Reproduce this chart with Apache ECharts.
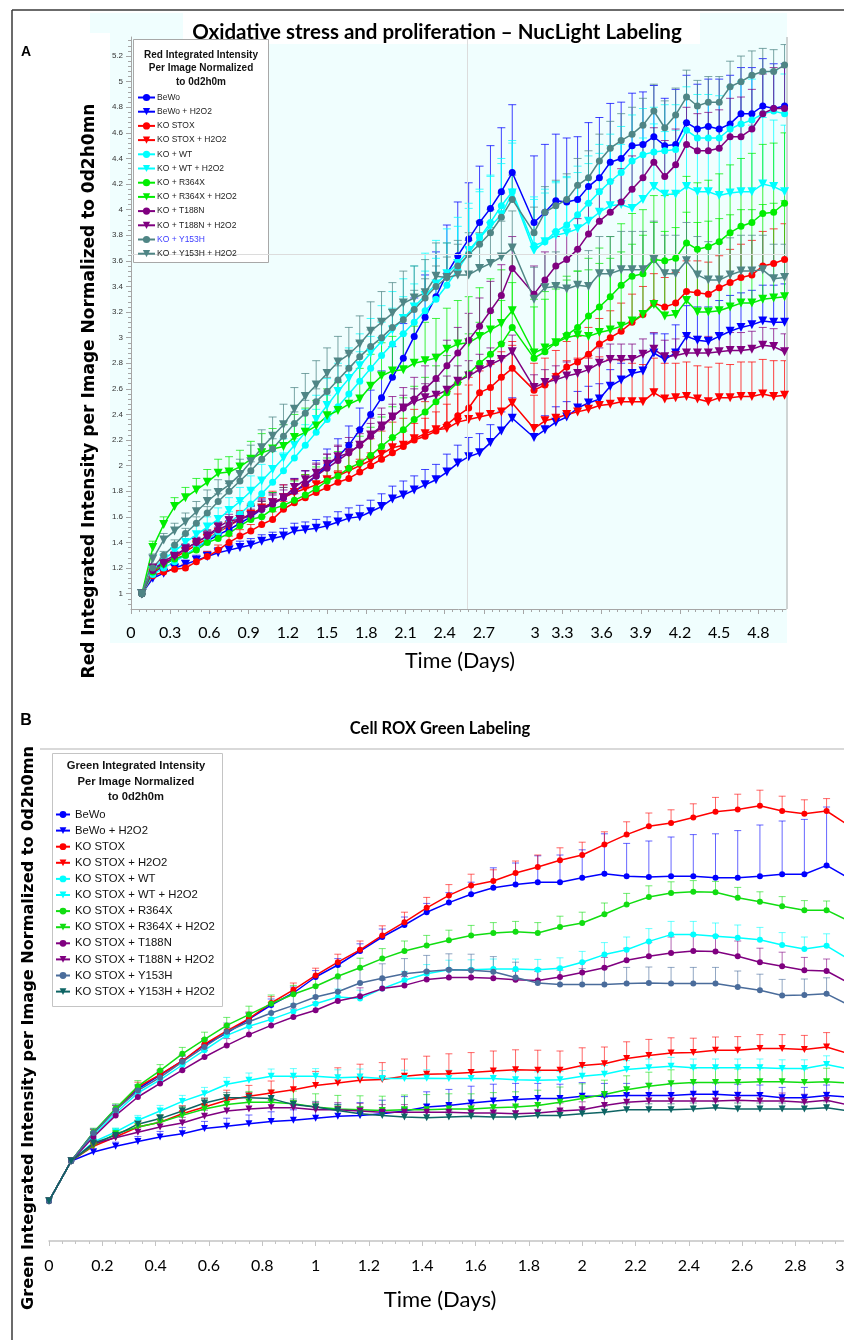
<!DOCTYPE html>
<html><head><meta charset="utf-8">
<script src="https://cdn.jsdelivr.net/npm/echarts@6/dist/echarts.min.js"></script>
<style>html,body{margin:0;padding:0;background:#fff}#c{width:844px;height:1340px}</style>
</head><body><div id="c"></div>
<script>
// ---------- Panel A (NucLight, red integrated intensity) ----------
const TIME_TOP_H = [2,4,6,8,10,12,14,16,18,20,22,24,26,28,30,32,34,36,38,40,42,44,46,48,50,52,54,56,58,60,62,64,66,68,70,
  74,76,78,80,82,84,86,88,90,92,94,96,98,100,102,104,106,108,110,112,114,116,118,120];
const NAMES_TOP = ['BeWo','BeWo + H2O2','KO STOX','KO STOX + H2O2','KO + WT','KO + WT + H2O2','KO + R364X','KO + R364X + H2O2','KO + T188N','KO + T188N + H2O2','KO + Y153H','KO + Y153H + H2O2'];
const X_TICKS_TOP = [0,0.3,0.6,0.9,1.2,1.5,1.8,2.1,2.4,2.7,3,3.3,3.6,3.9,4.2,4.5,4.8];
const Y_TICKS_TOP = [1,1.2,1.4,1.6,1.8,2,2.2,2.4,2.6,2.8,3,3.2,3.4,3.6,3.8,4,4.2,4.4,4.6,4.8,5,5.2];
const CROSSHAIR_TOP = {x: 2.57, y: 3.65};

const BEWO_TOP = [1.00,1.15,1.23,1.27,1.30,1.36,1.41,1.46,1.50,1.55,1.60,1.66,1.70,1.75,1.80,1.85,1.92,2.00,2.07,2.16,2.28,2.40,2.53,2.69,2.84,3.01,3.16,3.32,3.50,3.64,3.77,3.90,4.01,4.14,4.29,
  3.90,3.98,4.07,4.06,4.08,4.18,4.25,4.37,4.40,4.50,4.51,4.57,4.50,4.51,4.68,4.63,4.65,4.63,4.67,4.75,4.75,4.81,4.79,4.81];
const BEWO_H2O2_TOP = [1.00,1.12,1.16,1.20,1.23,1.26,1.29,1.32,1.34,1.36,1.38,1.41,1.43,1.45,1.49,1.50,1.51,1.53,1.56,1.59,1.60,1.64,1.68,1.74,1.77,1.81,1.85,1.89,1.95,2.02,2.07,2.10,2.18,2.27,2.37,
  2.22,2.28,2.34,2.38,2.45,2.49,2.52,2.62,2.67,2.72,2.74,2.88,2.83,2.88,3.01,2.98,2.97,3.01,3.05,3.08,3.10,3.13,3.12,3.12];
const KOSTOX_TOP = [1.00,1.14,1.17,1.19,1.20,1.25,1.29,1.34,1.40,1.45,1.49,1.54,1.58,1.66,1.71,1.75,1.79,1.83,1.87,1.90,1.95,2.00,2.05,2.10,2.15,2.20,2.23,2.27,2.32,2.39,2.45,2.57,2.61,2.69,2.76,
  2.59,2.63,2.70,2.77,2.81,2.87,2.95,3.00,3.05,3.12,3.18,3.27,3.24,3.27,3.36,3.35,3.34,3.39,3.43,3.47,3.49,3.56,3.58,3.61];
const KOSTOX_H2O2_TOP = [1.00,1.16,1.23,1.28,1.33,1.38,1.43,1.48,1.53,1.58,1.62,1.67,1.71,1.75,1.79,1.82,1.85,1.89,1.92,1.96,2.00,2.04,2.09,2.14,2.16,2.21,2.25,2.28,2.29,2.34,2.36,2.38,2.40,2.42,2.49,
  2.29,2.35,2.37,2.40,2.42,2.44,2.47,2.48,2.50,2.50,2.50,2.57,2.52,2.53,2.54,2.52,2.50,2.53,2.53,2.54,2.54,2.56,2.54,2.55];
const KOWT_TOP = [1.00,1.15,1.20,1.25,1.30,1.36,1.42,1.48,1.55,1.62,1.70,1.78,1.87,1.96,2.06,2.16,2.26,2.36,2.46,2.56,2.66,2.76,2.86,2.95,3.03,3.12,3.21,3.30,3.41,3.53,3.66,3.78,3.90,4.03,4.14,
  3.72,3.75,3.83,3.88,3.96,4.05,4.14,4.22,4.29,4.38,4.43,4.45,4.46,4.47,4.62,4.56,4.56,4.56,4.63,4.67,4.70,4.75,4.77,4.75];
const KOWT_H2O2_TOP = [1.00,1.18,1.27,1.33,1.40,1.46,1.52,1.58,1.65,1.72,1.80,1.88,1.97,2.06,2.16,2.26,2.36,2.47,2.58,2.68,2.78,2.88,2.97,3.06,3.15,3.24,3.33,3.42,3.50,3.58,3.68,3.78,3.87,3.96,4.13,
  3.68,3.75,3.80,3.82,3.85,3.91,3.98,4.03,4.04,4.01,4.08,4.18,4.12,4.12,4.18,4.14,4.14,4.11,4.13,4.14,4.14,4.20,4.18,4.14];
const R364X_TOP = [1.00,1.17,1.23,1.27,1.30,1.34,1.40,1.43,1.47,1.53,1.58,1.60,1.66,1.69,1.73,1.77,1.82,1.88,1.92,1.98,2.02,2.08,2.15,2.22,2.28,2.36,2.42,2.50,2.57,2.65,2.72,2.80,2.87,2.95,3.08,
  2.84,2.89,2.96,3.02,3.08,3.17,3.24,3.32,3.41,3.48,3.50,3.61,3.60,3.62,3.74,3.69,3.71,3.75,3.82,3.87,3.90,3.97,3.98,4.05];
const R364X_H2O2_TOP = [1.00,1.36,1.54,1.68,1.75,1.81,1.87,1.94,1.95,1.99,2.05,2.10,2.13,2.15,2.22,2.26,2.31,2.39,2.43,2.48,2.52,2.62,2.70,2.74,2.75,2.80,2.82,2.84,2.91,2.95,2.96,3.01,3.06,3.11,3.21,
  2.88,2.92,2.96,3.00,3.02,3.01,3.04,3.06,3.09,3.13,3.18,3.26,3.17,3.18,3.29,3.20,3.20,3.21,3.24,3.27,3.27,3.30,3.31,3.32];
const T188N_TOP = [1.00,1.18,1.25,1.30,1.35,1.40,1.45,1.50,1.54,1.58,1.62,1.66,1.70,1.75,1.80,1.86,1.92,1.98,2.04,2.10,2.16,2.23,2.30,2.38,2.45,2.52,2.60,2.68,2.78,2.88,2.98,3.09,3.21,3.33,3.54,
  3.34,3.45,3.56,3.61,3.69,3.81,3.91,3.98,4.06,4.16,4.25,4.37,4.26,4.35,4.51,4.46,4.46,4.48,4.57,4.57,4.63,4.75,4.79,4.79];
const T188N_H2O2_TOP = [1.00,1.20,1.23,1.29,1.35,1.40,1.45,1.52,1.57,1.58,1.61,1.66,1.71,1.75,1.83,1.89,1.94,2.01,2.07,2.10,2.16,2.24,2.31,2.38,2.45,2.50,2.53,2.55,2.59,2.66,2.70,2.75,2.79,2.83,2.89,
  2.61,2.65,2.67,2.70,2.72,2.75,2.80,2.83,2.83,2.83,2.87,2.91,2.85,2.86,2.88,2.88,2.88,2.89,2.90,2.90,2.91,2.94,2.93,2.89];
const Y153H_TOP = [1.00,1.20,1.30,1.38,1.47,1.55,1.63,1.72,1.80,1.88,1.96,2.05,2.13,2.23,2.33,2.41,2.50,2.58,2.67,2.76,2.85,2.93,3.00,3.08,3.14,3.22,3.31,3.40,3.47,3.56,3.65,3.73,3.82,3.94,4.08,
  3.82,3.98,4.03,4.08,4.19,4.25,4.38,4.48,4.54,4.59,4.66,4.77,4.64,4.74,4.88,4.81,4.84,4.84,4.96,5.00,5.05,5.08,5.08,5.13];
const Y153H_H2O2_TOP = [1.00,1.27,1.42,1.49,1.56,1.64,1.72,1.79,1.85,1.93,2.03,2.14,2.23,2.32,2.44,2.54,2.63,2.72,2.81,2.87,2.95,3.05,3.12,3.19,3.27,3.31,3.35,3.48,3.47,3.49,3.49,3.54,3.58,3.63,3.70,
  3.30,3.39,3.40,3.38,3.41,3.40,3.50,3.50,3.53,3.53,3.53,3.61,3.50,3.50,3.60,3.49,3.45,3.45,3.49,3.52,3.52,3.53,3.46,3.47];

const ERR_BEWO_TOP = [0,0.03,0.04,0.04,0.05,0.05,0.06,0.06,0.07,0.07,0.08,0.08,0.09,0.10,0.10,0.11,0.12,0.13,0.14,0.15,0.17,0.19,0.21,0.24,0.27,0.30,0.33,0.35,0.38,0.42,0.44,0.44,0.49,0.50,0.53,
  0.52,0.53,0.52,0.50,0.49,0.50,0.47,0.46,0.44,0.41,0.41,0.40,0.37,0.43,0.37,0.35,0.37,0.39,0.38,0.36,0.36,0.37,0.35,0.33];
const ERR_BEWO_H2O2_TOP = [0,0.02,0.03,0.03,0.03,0.04,0.04,0.04,0.04,0.05,0.05,0.05,0.05,0.06,0.06,0.06,0.07,0.07,0.08,0.08,0.09,0.09,0.10,0.10,0.11,0.11,0.12,0.12,0.14,0.14,0.15,0.15,0.14,0.15,0.16,
  0.10,0.11,0.12,0.12,0.13,0.13,0.12,0.13,0.13,0.13,0.14,0.15,0.20,0.22,0.24,0.26,0.27,0.28,0.28,0.27,0.27,0.28,0.29,0.30];
const ERR_KOSTOX_TOP = [0,0.02,0.03,0.03,0.03,0.04,0.04,0.04,0.05,0.05,0.05,0.06,0.06,0.06,0.07,0.07,0.08,0.08,0.09,0.09,0.10,0.10,0.11,0.12,0.12,0.13,0.14,0.15,0.16,0.17,0.18,0.19,0.19,0.20,0.21,
  0.21,0.21,0.20,0.20,0.20,0.21,0.20,0.21,0.22,0.22,0.22,0.23,0.23,0.24,0.24,0.25,0.25,0.25,0.26,0.26,0.27,0.27,0.27,0.28];
const ERR_KOSTOX_H2O2_TOP = [0,0.03,0.04,0.04,0.05,0.05,0.06,0.06,0.07,0.07,0.08,0.08,0.09,0.10,0.10,0.11,0.12,0.13,0.14,0.15,0.16,0.17,0.18,0.20,0.21,0.23,0.25,0.27,0.29,0.31,0.33,0.36,0.39,0.42,0.45,
  0.26,0.28,0.35,0.42,0.42,0.40,0.38,0.35,0.32,0.30,0.29,0.27,0.28,0.27,0.27,0.26,0.27,0.27,0.26,0.27,0.27,0.27,0.28,0.27];
const ERR_KOWT_TOP = [0,0.03,0.04,0.05,0.05,0.06,0.07,0.08,0.09,0.10,0.11,0.12,0.13,0.14,0.15,0.16,0.18,0.19,0.20,0.22,0.23,0.25,0.26,0.28,0.29,0.30,0.31,0.32,0.33,0.34,0.35,0.36,0.37,0.37,0.38,
  0.38,0.38,0.38,0.38,0.38,0.37,0.37,0.37,0.36,0.36,0.36,0.35,0.36,0.35,0.34,0.34,0.34,0.33,0.33,0.33,0.32,0.32,0.32,0.31];
const ERR_KOWT_H2O2_TOP = [0,0.03,0.04,0.05,0.06,0.07,0.08,0.09,0.10,0.11,0.12,0.13,0.14,0.15,0.17,0.18,0.19,0.21,0.22,0.24,0.25,0.27,0.28,0.30,0.31,0.32,0.33,0.34,0.35,0.36,0.37,0.38,0.39,0.40,0.41,
  0.40,0.41,0.42,0.43,0.44,0.45,0.46,0.47,0.47,0.48,0.48,0.49,0.49,0.50,0.50,0.50,0.51,0.51,0.51,0.52,0.52,0.52,0.52,0.52];
const ERR_R364X_TOP = [0,0.03,0.04,0.05,0.05,0.06,0.07,0.08,0.09,0.10,0.11,0.12,0.13,0.14,0.15,0.16,0.17,0.18,0.19,0.20,0.21,0.22,0.23,0.24,0.25,0.26,0.27,0.28,0.29,0.30,0.31,0.32,0.33,0.34,0.35,
  0.40,0.41,0.42,0.43,0.44,0.45,0.46,0.47,0.48,0.49,0.50,0.50,0.51,0.51,0.52,0.52,0.52,0.53,0.53,0.53,0.54,0.54,0.54,0.55];
const ERR_R364X_H2O2_TOP = [0,0.05,0.06,0.07,0.08,0.09,0.10,0.11,0.12,0.13,0.14,0.15,0.16,0.17,0.18,0.19,0.20,0.21,0.22,0.23,0.24,0.25,0.26,0.27,0.28,0.29,0.30,0.31,0.32,0.34,0.36,0.38,0.40,0.42,0.44,
  0.42,0.44,0.46,0.48,0.50,0.52,0.54,0.56,0.58,0.60,0.62,0.64,0.66,0.68,0.69,0.70,0.71,0.72,0.72,0.73,0.73,0.74,0.74,0.75];
const ERR_T188N_TOP = [0,0.02,0.03,0.03,0.04,0.04,0.05,0.05,0.06,0.06,0.07,0.07,0.08,0.08,0.09,0.10,0.10,0.11,0.12,0.12,0.13,0.14,0.15,0.16,0.16,0.17,0.18,0.19,0.20,0.20,0.21,0.22,0.23,0.24,0.25,
  0.22,0.22,0.23,0.23,0.24,0.24,0.25,0.25,0.26,0.26,0.27,0.27,0.28,0.28,0.29,0.29,0.30,0.30,0.30,0.31,0.31,0.31,0.32,0.32];
const ERR_T188N_H2O2_TOP = [0,0.02,0.03,0.03,0.03,0.04,0.04,0.04,0.05,0.05,0.05,0.06,0.06,0.06,0.07,0.07,0.07,0.08,0.08,0.08,0.09,0.09,0.09,0.10,0.10,0.10,0.11,0.11,0.11,0.12,0.12,0.12,0.13,0.13,0.13,
  0.10,0.10,0.11,0.11,0.11,0.11,0.12,0.12,0.12,0.12,0.12,0.13,0.13,0.13,0.13,0.13,0.13,0.14,0.14,0.14,0.14,0.14,0.14,0.14];
const ERR_Y153H_TOP = [0,0.03,0.03,0.04,0.04,0.05,0.05,0.06,0.06,0.07,0.07,0.08,0.08,0.09,0.09,0.10,0.10,0.11,0.11,0.12,0.12,0.13,0.13,0.14,0.14,0.15,0.15,0.16,0.16,0.17,0.17,0.18,0.18,0.19,0.19,
  0.20,0.20,0.20,0.20,0.21,0.21,0.21,0.21,0.21,0.21,0.21,0.21,0.21,0.21,0.21,0.20,0.20,0.20,0.20,0.20,0.19,0.18,0.17,0.16];
const ERR_Y153H_H2O2_TOP = [0,0.04,0.05,0.06,0.07,0.08,0.09,0.10,0.11,0.12,0.13,0.14,0.15,0.16,0.17,0.18,0.19,0.20,0.20,0.21,0.22,0.23,0.24,0.24,0.25,0.25,0.26,0.26,0.27,0.27,0.27,0.28,0.28,0.28,0.29,
  0.25,0.26,0.27,0.27,0.28,0.28,0.29,0.29,0.30,0.30,0.30,0.30,0.30,0.30,0.30,0.30,0.30,0.29,0.29,0.28,0.28,0.27,0.27,0.26];

// ---------- Panel B (Cell ROX Green) ----------
const TIME_BOT_H = [0,2,4,6,8,10,12,14,16,18,20,22,24,26,28,30,32,34,36,38,40,42,44,46,48,50,52,54,56,58,60,62,64,66,68,70,72];
const NAMES_BOT = ['BeWo','BeWo + H2O2','KO STOX','KO STOX + H2O2','KO STOX + WT','KO STOX + WT + H2O2','KO STOX + R364X','KO STOX + R364X + H2O2','KO STOX + T188N','KO STOX + T188N + H2O2','KO STOX + Y153H','KO STOX + Y153H + H2O2'];
const X_TICKS_BOT = [0,0.2,0.4,0.6,0.8,1,1.2,1.4,1.6,1.8,2,2.2,2.4,2.6,2.8,3];

const BEWO_BOT = [0.90,1.00,1.07,1.13,1.18,1.215,1.25,1.29,1.32,1.355,1.39,1.42,1.46,1.49,1.525,1.56,1.59,1.622,
  1.646,1.667,1.683,1.691,1.697,1.697,1.708,1.718,1.712,1.71,1.712,1.712,1.708,1.708,1.712,1.717,1.717,1.739,1.707];
const BEWO_H2O2_BOT = [0.90,1.00,1.0225,1.037,1.049,1.06,1.068,1.081,1.087,1.093,1.099,1.102,1.107,1.112,1.114,1.118,1.125,1.135,
  1.139,1.145,1.15,1.154,1.156,1.156,1.162,1.162,1.164,1.164,1.164,1.167,1.167,1.164,1.164,1.158,1.158,1.164,1.16];
const KOSTOX_BOT = [0.90,1.00,1.0685,1.1285,1.185,1.216,1.25,1.292,1.325,1.356,1.395,1.428,1.464,1.497,1.528,1.564,1.597,1.633,
  1.664,1.689,1.70,1.72,1.735,1.752,1.765,1.791,1.816,1.837,1.845,1.859,1.873,1.879,1.888,1.875,1.868,1.875,1.839];
const KOSTOX_H2O2_BOT = [0.90,1.00,1.037,1.06,1.085,1.097,1.118,1.135,1.152,1.162,1.17,1.178,1.189,1.195,1.202,1.204,1.212,1.217,
  1.218,1.221,1.225,1.228,1.227,1.227,1.239,1.243,1.256,1.264,1.27,1.271,1.277,1.277,1.281,1.281,1.279,1.285,1.268];
const WT_BOT = [0.90,1.00,1.065,1.12,1.17,1.203,1.24,1.277,1.314,1.337,1.354,1.374,1.393,1.41,1.406,1.431,1.452,1.468,
  1.478,1.478,1.48,1.48,1.478,1.482,1.497,1.516,1.528,1.549,1.566,1.566,1.562,1.558,1.553,1.54,1.53,1.538,1.504];
const WT_H2O2_BOT = [0.90,1.00,1.0475,1.0725,1.102,1.125,1.149,1.168,1.192,1.202,1.212,1.212,1.212,1.208,1.21,1.206,1.206,1.207,
  1.206,1.206,1.206,1.203,1.202,1.203,1.212,1.217,1.229,1.233,1.237,1.233,1.233,1.233,1.233,1.231,1.231,1.241,1.23];
const R364X_BOT = [0.90,1.00,1.072,1.131,1.187,1.226,1.268,1.304,1.339,1.366,1.393,1.417,1.437,1.462,1.483,1.506,1.525,1.539,
  1.552,1.564,1.57,1.573,1.57,1.585,1.595,1.617,1.641,1.66,1.67,1.673,1.672,1.658,1.648,1.637,1.627,1.627,1.60];
const R364X_H2O2_BOT = [0.90,1.00,1.039,1.068,1.085,1.097,1.114,1.13,1.141,1.147,1.147,1.143,1.135,1.13,1.128,1.126,1.128,1.128,
  1.13,1.13,1.133,1.135,1.139,1.147,1.156,1.166,1.178,1.187,1.193,1.196,1.196,1.196,1.198,1.198,1.196,1.198,1.195];
const T188N_BOT = [0.90,1.00,1.06,1.114,1.16,1.194,1.227,1.26,1.289,1.316,1.339,1.36,1.377,1.40,1.412,1.431,1.439,1.454,
  1.459,1.459,1.457,1.453,1.451,1.46,1.471,1.483,1.502,1.512,1.52,1.525,1.524,1.512,1.497,1.487,1.477,1.475,1.445];
const T188N_H2O2_BOT = [0.90,1.00,1.043,1.058,1.072,1.085,1.095,1.112,1.125,1.13,1.133,1.133,1.128,1.128,1.125,1.122,1.122,1.122,
  1.122,1.12,1.12,1.118,1.12,1.125,1.128,1.139,1.147,1.15,1.15,1.15,1.15,1.152,1.15,1.15,1.147,1.152,1.14];
const Y153H_BOT = [0.90,1.00,1.07,1.127,1.176,1.209,1.248,1.285,1.323,1.348,1.37,1.389,1.41,1.423,1.445,1.457,1.468,1.474,
  1.478,1.477,1.473,1.459,1.445,1.441,1.441,1.441,1.444,1.445,1.444,1.444,1.444,1.435,1.427,1.414,1.415,1.418,1.39];
const Y153H_H2O2_BOT = [0.90,1.00,1.045,1.064,1.092,1.106,1.125,1.145,1.158,1.158,1.156,1.141,1.135,1.126,1.118,1.114,1.11,1.108,
  1.11,1.112,1.11,1.11,1.114,1.114,1.118,1.122,1.128,1.128,1.128,1.13,1.133,1.13,1.13,1.13,1.13,1.133,1.125];

const ERR_BEWO_BOT = [0,0,0.01,0.01,0.01,0.01,0.012,0.012,0.014,0.014,0.015,0.015,0.016,0.016,0.018,0.02,0.02,0.022,
  0.025,0.03,0.05,0.054,0.066,0.068,0.07,0.10,0.082,0.09,0.098,0.104,0.11,0.118,0.128,0.133,0.137,0.146,0.14];
const ERR_BEWO_H2O2_BOT = [0,0,0.008,0.01,0.012,0.014,0.016,0.018,0.02,0.022,0.024,0.026,0.028,0.03,0.032,0.034,0.036,0.038,
  0.04,0.042,0.042,0.04,0.038,0.036,0.034,0.032,0.03,0.03,0.03,0.028,0.028,0.028,0.026,0.026,0.026,0.026,0.026];
const ERR_KOSTOX_BOT = [0,0,0.01,0.01,0.012,0.012,0.014,0.014,0.015,0.016,0.016,0.017,0.018,0.02,0.022,0.024,0.025,0.026,
  0.027,0.028,0.028,0.03,0.03,0.031,0.032,0.032,0.032,0.033,0.033,0.034,0.036,0.038,0.039,0.037,0.035,0.031,0.03];
const ERR_KOSTOX_H2O2_BOT = [0,0,0.01,0.012,0.015,0.018,0.02,0.022,0.025,0.027,0.03,0.032,0.035,0.038,0.04,0.042,0.043,0.045,
  0.05,0.05,0.05,0.05,0.05,0.048,0.044,0.042,0.042,0.04,0.038,0.036,0.033,0.034,0.035,0.035,0.035,0.036,0.036];
const ERR_WT_BOT = [0,0,0.008,0.01,0.012,0.013,0.014,0.015,0.016,0.017,0.018,0.019,0.02,0.02,0.021,0.022,0.022,0.023,
  0.024,0.025,0.025,0.025,0.026,0.026,0.027,0.03,0.032,0.032,0.033,0.033,0.033,0.032,0.031,0.031,0.03,0.03,0.03];
const ERR_WT_H2O2_BOT = [0,0,0.008,0.01,0.012,0.014,0.015,0.016,0.017,0.018,0.018,0.019,0.019,0.02,0.02,0.02,0.021,0.021,
  0.021,0.021,0.021,0.021,0.021,0.021,0.022,0.022,0.022,0.022,0.022,0.022,0.022,0.022,0.022,0.022,0.022,0.022,0.022];
const ERR_R364X_BOT = [0,0,0.01,0.012,0.014,0.015,0.016,0.018,0.02,0.021,0.022,0.022,0.023,0.024,0.024,0.025,0.025,0.025,
  0.025,0.025,0.026,0.026,0.026,0.027,0.027,0.028,0.028,0.028,0.028,0.028,0.027,0.026,0.025,0.024,0.024,0.023,0.023];
const ERR_R364X_H2O2_BOT = [0,0,0.01,0.012,0.015,0.018,0.02,0.022,0.025,0.027,0.03,0.032,0.033,0.034,0.035,0.036,0.037,0.038,
  0.038,0.038,0.038,0.038,0.038,0.038,0.037,0.036,0.035,0.035,0.035,0.035,0.035,0.034,0.034,0.034,0.034,0.034,0.034];
const ERR_T188N_BOT = [0,0,0.008,0.01,0.012,0.014,0.015,0.016,0.017,0.018,0.019,0.02,0.02,0.021,0.021,0.022,0.022,0.022,
  0.022,0.022,0.022,0.022,0.023,0.024,0.025,0.026,0.03,0.035,0.04,0.04,0.04,0.038,0.035,0.035,0.032,0.03,0.03];
const ERR_T188N_H2O2_BOT = [0,0,0.008,0.01,0.012,0.013,0.014,0.015,0.016,0.017,0.018,0.018,0.018,0.018,0.019,0.019,0.019,0.019,
  0.02,0.02,0.02,0.02,0.02,0.02,0.02,0.02,0.02,0.02,0.02,0.02,0.02,0.02,0.02,0.02,0.02,0.02,0.02];
const ERR_Y153H_BOT = [0,0,0.01,0.012,0.014,0.016,0.018,0.02,0.022,0.024,0.026,0.028,0.03,0.032,0.034,0.036,0.038,0.04,
  0.04,0.04,0.038,0.038,0.036,0.036,0.04,0.04,0.04,0.04,0.04,0.04,0.04,0.04,0.04,0.04,0.04,0.04,0.04];
const ERR_Y153H_H2O2_BOT = [0,0,0.006,0.008,0.01,0.01,0.012,0.012,0.013,0.013,0.014,0.014,0.014,0.015,0.015,0.015,0.015,0.015,
  0.015,0.015,0.015,0.015,0.015,0.015,0.015,0.015,0.015,0.015,0.015,0.015,0.015,0.015,0.015,0.015,0.015,0.015,0.015];

// ---------- styles ----------
const COLORS_TOP = ['#0000ff','#0000ff','#ff0000','#ff0000','#00ffff','#00ffff','#00ee00','#00ee00','#800080','#800080','#4f8585','#4f8585'];
const COLORS_BOT = ['#0000ff','#0000ff','#ff0000','#ff0000','#00ffff','#00ffff','#11dd11','#11dd11','#800080','#800080','#4a6c9b','#0e6464'];
const SYMBOLS = ['circle','triangle','circle','triangle','circle','triangle','circle','triangle','circle','triangle','circle','triangle'];

const VALS_TOP = [BEWO_TOP,BEWO_H2O2_TOP,KOSTOX_TOP,KOSTOX_H2O2_TOP,KOWT_TOP,KOWT_H2O2_TOP,R364X_TOP,R364X_H2O2_TOP,T188N_TOP,T188N_H2O2_TOP,Y153H_TOP,Y153H_H2O2_TOP];
const ERRS_TOP = [ERR_BEWO_TOP,ERR_BEWO_H2O2_TOP,ERR_KOSTOX_TOP,ERR_KOSTOX_H2O2_TOP,ERR_KOWT_TOP,ERR_KOWT_H2O2_TOP,ERR_R364X_TOP,ERR_R364X_H2O2_TOP,ERR_T188N_TOP,ERR_T188N_H2O2_TOP,ERR_Y153H_TOP,ERR_Y153H_H2O2_TOP];
const VALS_BOT = [BEWO_BOT,BEWO_H2O2_BOT,KOSTOX_BOT,KOSTOX_H2O2_BOT,WT_BOT,WT_H2O2_BOT,R364X_BOT,R364X_H2O2_BOT,T188N_BOT,T188N_H2O2_BOT,Y153H_BOT,Y153H_H2O2_BOT];
const ERRS_BOT = [ERR_BEWO_BOT,ERR_BEWO_H2O2_BOT,ERR_KOSTOX_BOT,ERR_KOSTOX_H2O2_BOT,ERR_WT_BOT,ERR_WT_H2O2_BOT,ERR_R364X_BOT,ERR_R364X_H2O2_BOT,ERR_T188N_BOT,ERR_T188N_H2O2_BOT,ERR_Y153H_BOT,ERR_Y153H_H2O2_BOT];

function hexA(hex, a){const n=parseInt(hex.slice(1),16);return 'rgba('+((n>>16)&255)+','+((n>>8)&255)+','+(n&255)+','+a+')';}
function errRender(color, capW){
  return function(params, api){
    const x = api.value(0), y = api.value(1), e = api.value(2);
    if (!e) return null;
    const p0 = api.coord([x, y]), p1 = api.coord([x, y + e]);
    const st = {stroke: color, lineWidth: 1};
    return {type:'group', children:[
      {type:'line', shape:{x1:p0[0], y1:p0[1], x2:p1[0], y2:p1[1]}, style:st},
      {type:'line', shape:{x1:p1[0]-capW/2, y1:p1[1], x2:p1[0]+capW/2, y2:p1[1]}, style:st}
    ]};
  };
}

const series = [];
function addPanel(names, vals, errs, timesH, colors, xi, yi, circ, tri, capW, errAlpha){
  names.forEach(function(nm, k){
    const n = Math.min(vals[k].length, timesH.length);
    const line = [], eb = [];
    for (let i = 0; i < n; i++) {
      line.push([timesH[i]/24, vals[k][i]]);
      eb.push([timesH[i]/24, vals[k][i], errs[k][i] || 0]);
    }
    series.push({type:'custom', name: nm + ' (SD)', xAxisIndex: xi, yAxisIndex: yi, data: eb,
      encode:{x:0, y:1}, renderItem: errRender(hexA(colors[k], errAlpha), capW), z: 2, silent: true, clip: true});
    const isTri = SYMBOLS[k] === 'triangle';
    series.push({type:'line', name: nm, xAxisIndex: xi, yAxisIndex: yi, data: line,
      symbol: SYMBOLS[k], symbolSize: isTri ? tri : circ, symbolRotate: isTri ? 180 : 0, showSymbol: true,
      lineStyle:{color: colors[k], width: 1.5}, itemStyle:{color: colors[k]}, z: 3, clip: true, silent: true});
  });
}
addPanel(NAMES_TOP, VALS_TOP, ERRS_TOP, TIME_TOP_H, COLORS_TOP, 0, 0, 7, 9, 8, 0.75);
addPanel(NAMES_BOT, VALS_BOT, ERRS_BOT, TIME_BOT_H, COLORS_BOT, 2, 2, 6, 7, 7, 0.6);
// faint reference cross-hair in panel A
series.push({type:'line', xAxisIndex:0, yAxisIndex:0, data:[], silent:true,
  markLine:{silent:true, symbol:'none', label:{show:false}, lineStyle:{color:'#dcdcdc', width:1, type:'solid'},
    data:[{xAxis: CROSSHAIR_TOP.x}, {yAxis: CROSSHAIR_TOP.y}]}, z: 1});

// minor tick positions (styling only)
const minorXTop = [], minorYTop = [], minorXBot = [];
for (let k = 1; k <= 83; k++) if (k % 5) minorXTop.push(+(k*0.06).toFixed(2));
for (let k = 23; k <= 133; k++) if (k % 5) minorYTop.push(+(k*0.04).toFixed(2));
for (let k = 1; k <= 61; k++) if (k % 4) minorXBot.push(+(k*0.05).toFixed(2));

const AX = '#a6a6a6';
const LBL = {fontFamily:'Lato', fontSize:16, color:'#000'};
const option = {
  animation: false,
  backgroundColor: '#ffffff',
  grid: [
    {left: 131, top: 37, width: 655, height: 572, outerBoundsMode:'none', containLabel:false},
    {left: 49, top: 749, width: 813, height: 492, outerBoundsMode:'none', containLabel:false}
  ],
  xAxis: [
    {gridIndex:0, type:'value', min:0, max:5.011, splitLine:{show:false},
     axisLine:{show:true, lineStyle:{color:AX}}, axisTick:{show:true, customValues:X_TICKS_TOP, length:5, lineStyle:{color:AX}},
     axisLabel:Object.assign({customValues:X_TICKS_TOP, margin:16, hideOverlap:false,
       formatter:function(v){ return v === 3 ? '{s|3}' : String(v); },
       rich:{s:Object.assign({padding:[0,0,0,24]}, LBL)}}, LBL)},
    {gridIndex:0, type:'value', min:0, max:5.011, position:'bottom', splitLine:{show:false},
     axisLine:{show:false}, axisTick:{show:true, customValues:minorXTop, length:3, lineStyle:{color:AX}}, axisLabel:{show:false}},
    {gridIndex:1, type:'value', min:0, max:3.0495, splitLine:{show:false},
     axisLine:{show:true, lineStyle:{color:'#c4c4c4', width:1.5}}, axisTick:{show:true, customValues:X_TICKS_BOT, length:5, lineStyle:{color:'#c4c4c4'}},
     axisLabel:Object.assign({customValues:X_TICKS_BOT, margin:17, hideOverlap:false,
       formatter:function(v){ return v === 3 ? '{r|3}' : String(v); },
       rich:{r:Object.assign({padding:[0,18,0,0]}, LBL)}}, LBL)},
    {gridIndex:1, type:'value', min:0, max:3.0495, position:'bottom', splitLine:{show:false},
     axisLine:{show:false}, axisTick:{show:true, customValues:minorXBot, length:3, lineStyle:{color:'#c4c4c4'}}, axisLabel:{show:false}}
  ],
  yAxis: [
    {gridIndex:0, type:'value', min:0.88, max:5.349, splitLine:{show:false},
     axisLine:{show:true, lineStyle:{color:AX}}, axisTick:{show:true, customValues:Y_TICKS_TOP, length:5, lineStyle:{color:AX}},
     axisLabel:{customValues:Y_TICKS_TOP, fontFamily:'Liberation Sans', fontSize:8, color:'#333', margin:8}},
    {gridIndex:0, type:'value', min:0.88, max:5.349, position:'left', splitLine:{show:false},
     axisLine:{show:false}, axisTick:{show:true, customValues:minorYTop, length:3, lineStyle:{color:AX}}, axisLabel:{show:false}},
    {gridIndex:1, type:'value', min:0.8, max:2.03, show:false}
  ],
  legend: [
    {left: 137, top: 93, orient:'vertical', padding:0, itemWidth:17, itemHeight:9, itemGap:5.2, z: 6,
     textStyle:{fontFamily:'Liberation Sans', fontSize:8.5, color:'#222', padding:[0,0,0,-3]},
     data: NAMES_TOP.map(function(n){ return n === 'KO + Y153H' ? {name:n, textStyle:{color:'#3c3cff'}} : {name:n}; }),
     selectedMode:false},
    {left: 55, top: 809, orient:'vertical', padding:0, itemWidth:14, itemHeight:8.5, itemGap:5.1, z: 6,
     textStyle:{fontFamily:'Liberation Sans', fontSize:11.3, color:'#111'},
     data: NAMES_BOT.slice(), selectedMode:false}
  ],
  graphic: [
    // panel A tinted background
    {type:'rect', z:-10, shape:{x:110, y:13, width:677, height:630}, style:{fill:'#f0fefe'}},
    {type:'rect', z:-10, shape:{x:90, y:13, width:20, height:20}, style:{fill:'#f0fefe'}},
    {type:'rect', z:-9, shape:{x:183, y:13, width:517, height:31}, style:{fill:'#ffffff'}},
    // outer frame
    {type:'line', z:10, shape:{x1:12, y1:10, x2:844, y2:10}, style:{stroke:'#3a3a3a', lineWidth:1.5}},
    {type:'line', z:10, shape:{x1:12, y1:10, x2:12, y2:1340}, style:{stroke:'#3a3a3a', lineWidth:1.5}},
    // panel A right border
    {type:'line', z:1, shape:{x1:787, y1:37, x2:787, y2:609}, style:{stroke:'#cfd4d4', lineWidth:2}},
    // panel B top border
    {type:'line', z:1, shape:{x1:40, y1:749, x2:844, y2:749}, style:{stroke:'#cccccc', lineWidth:1.5}},
    // legend boxes
    {type:'rect', z:5, shape:{x:133.5, y:39.5, width:135, height:223}, style:{fill:'#ffffff', stroke:'#a8a8a8', lineWidth:1}},
    {type:'rect', z:5, shape:{x:52.5, y:753.5, width:170, height:253}, style:{fill:'#ffffff', stroke:'#c4c4c4', lineWidth:1}},
    // legend titles
    {type:'text', z:7, x:201, y:55, style:{text:'Red Integrated Intensity', font:'bold 10px "Liberation Sans"', fill:'#111', textAlign:'center', textVerticalAlign:'middle'}},
    {type:'text', z:7, x:201, y:68.5, style:{text:'Per Image Normalized', font:'bold 10px "Liberation Sans"', fill:'#111', textAlign:'center', textVerticalAlign:'middle'}},
    {type:'text', z:7, x:201, y:82, style:{text:'to 0d2h0m', font:'bold 10px "Liberation Sans"', fill:'#111', textAlign:'center', textVerticalAlign:'middle'}},
    {type:'text', z:7, x:136, y:766, style:{text:'Green Integrated Intensity', font:'bold 11.2px "Liberation Sans"', fill:'#111', textAlign:'center', textVerticalAlign:'middle'}},
    {type:'text', z:7, x:136, y:781.5, style:{text:'Per Image Normalized', font:'bold 11.2px "Liberation Sans"', fill:'#111', textAlign:'center', textVerticalAlign:'middle'}},
    {type:'text', z:7, x:136, y:796.5, style:{text:'to 0d2h0m', font:'bold 11.2px "Liberation Sans"', fill:'#111', textAlign:'center', textVerticalAlign:'middle'}},
    // titles
    {type:'text', z:7, x:437, y:32, style:{text:'Oxidative stress and proliferation \u2013 NucLight Labeling', font:'bold 20.5px Lato', fill:'#000', textAlign:'center', textVerticalAlign:'middle'}},
    {type:'text', z:7, x:440, y:729, style:{text:'Cell ROX Green Labeling', font:'bold 16.5px Lato', fill:'#000', textAlign:'center', textVerticalAlign:'middle'}},
    {type:'text', z:7, x:26, y:52, style:{text:'A', font:'bold 14px "Liberation Sans"', fill:'#000', textAlign:'center', textVerticalAlign:'middle'}},
    {type:'text', z:7, x:26, y:721, style:{text:'B', font:'bold 16px "Liberation Sans"', fill:'#000', textAlign:'center', textVerticalAlign:'middle'}},
    // axis titles
    {type:'text', z:7, x:460, y:661, style:{text:'Time (Days)', font:'21.5px Lato', fill:'#000', textAlign:'center', textVerticalAlign:'middle'}},
    {type:'text', z:7, x:440, y:1300, style:{text:'Time (Days)', font:'22px Lato', fill:'#000', textAlign:'center', textVerticalAlign:'middle'}},
    {type:'text', z:7, x:90, y:391, rotation:Math.PI/2, style:{text:'Red Integrated Intensity per Image Normalized to 0d2h0mn', font:'bold 17px "DejaVu Sans"', fill:'#000', textAlign:'center', textVerticalAlign:'middle'}},
    {type:'text', z:7, x:29, y:1028, rotation:Math.PI/2, style:{text:'Green Integrated Intensity per Image Normalized to 0d2h0mn', font:'bold 16.1px "DejaVu Sans"', fill:'#000', textAlign:'center', textVerticalAlign:'middle'}}
  ],
  series: series
};
const chart = echarts.init(document.getElementById('c'), null, {renderer:'canvas', width:844, height:1340});
chart.setOption(option);
</script></body></html>
